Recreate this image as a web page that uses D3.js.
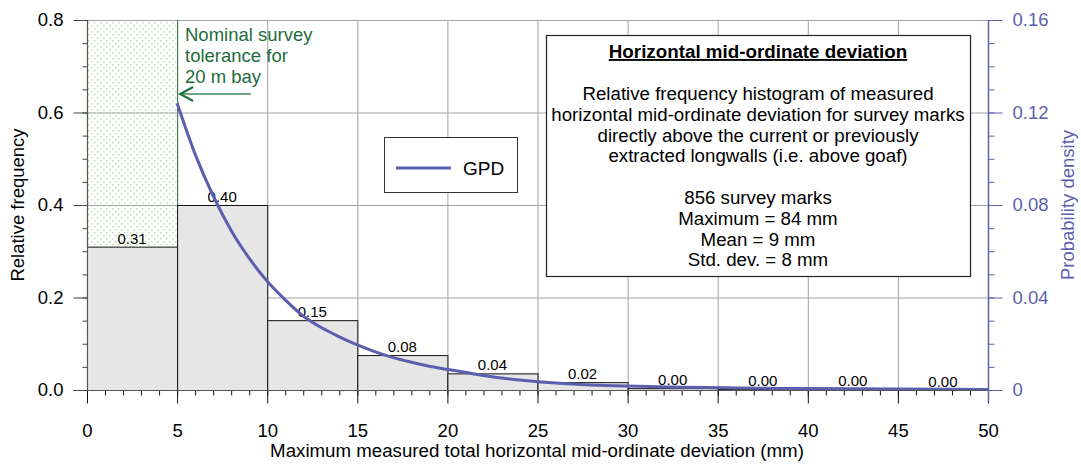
<!DOCTYPE html>
<html>
<head>
<meta charset="utf-8">
<script src="https://cdn.jsdelivr.net/npm/d3@7"></script>
<style>
  body { margin: 0; background: #fff; }
  svg { display: block; font-family: "Liberation Sans", Arial, sans-serif; }
</style>
</head>
<body>
<svg id="chart" width="1081" height="464"></svg>
<script>
// Histogram bins (mm) and relative frequencies
const binStarts = [0, 5, 10, 15, 20, 25, 30, 35, 40, 45];
const binWidth = 5;
const relFreq = [0.31, 0.40, 0.151, 0.0755, 0.036, 0.017, 0.004, 0.002, 0.0012, 0.0008];

// Fitted GPD probability density (starts at the 5 mm threshold)
const gpdX = [5, 6, 7, 8, 9, 10, 11, 12, 13, 14, 15, 16, 17, 18, 19, 20, 22, 24, 26, 28, 30, 33, 36, 40, 45, 50];
const gpdY = [0.124, 0.102, 0.084, 0.069, 0.057, 0.047, 0.039, 0.032, 0.027, 0.023, 0.0195, 0.0165,
              0.014, 0.012, 0.0103, 0.0089, 0.0063, 0.0043, 0.0030, 0.0022, 0.0017, 0.0012, 0.0009,
              0.0006, 0.0004, 0.0002];

const xTicks = [0, 5, 10, 15, 20, 25, 30, 35, 40, 45, 50];
const yTicks = [0.0, 0.2, 0.4, 0.6, 0.8];
const y2Ticks = [0, 0.04, 0.08, 0.12, 0.16];
const tolerance = 5;

const infoLines = [
  "Relative frequency histogram of measured",
  "horizontal mid-ordinate deviation for survey marks",
  "directly above the current or previously",
  "extracted longwalls (i.e. above goaf)",
  "",
  "856 survey marks",
  "Maximum = 84 mm",
  "Mean = 9 mm",
  "Std. dev. = 8 mm"
];
const noteLines = ["Nominal survey", "tolerance for", "20 m bay"];

const svg = d3.select("#chart");
const x = d3.scaleLinear().domain([0, 50]).range([87, 988]);
const y = d3.scaleLinear().domain([0, 0.8]).range([390, 20]);
const y2 = d3.scaleLinear().domain([0, 0.16]).range([390, 20]);

const green = "#1f6b3b";
const blue = "#5b5fad";

// dotted fill for the tolerance band
const defs = svg.append("defs");
const pat = defs.append("pattern").attr("id", "dots").attr("patternUnits", "userSpaceOnUse")
  .attr("width", 6).attr("height", 6);
pat.append("rect").attr("width", 6).attr("height", 6).attr("fill", "#ffffff");
pat.append("rect").attr("x", 1).attr("y", 1).attr("width", 1.6).attr("height", 1.6).attr("fill", "#c4e0bc");
pat.append("rect").attr("x", 4).attr("y", 4).attr("width", 1.6).attr("height", 1.6).attr("fill", "#c4e0bc");

svg.append("rect")
  .attr("x", x(0)).attr("y", y(0.8))
  .attr("width", x(tolerance) - x(0)).attr("height", y(0) - y(0.8))
  .attr("fill", "url(#dots)");

// grid
const grid = svg.append("g").attr("stroke", "#a3a3a3").attr("stroke-width", 1);
grid.selectAll("line.v").data(xTicks.filter(d => d > 0 && d < 50 && d !== tolerance)).join("line")
  .attr("x1", d => x(d) + 0.5).attr("x2", d => x(d) + 0.5)
  .attr("y1", y(0.8)).attr("y2", y(0));
grid.selectAll("line.h").data(yTicks.filter(d => d > 0)).join("line")
  .attr("x1", x(0)).attr("x2", x(50))
  .attr("y1", d => y(d) + 0.5).attr("y2", d => y(d) + 0.5);

// tolerance boundary
svg.append("line")
  .attr("x1", x(tolerance) + 0.5).attr("x2", x(tolerance) + 0.5)
  .attr("y1", y(0.8)).attr("y2", y(0))
  .attr("stroke", "#4d7d5c").attr("stroke-width", 1.2);

// bars
svg.append("g").selectAll("rect").data(binStarts).join("rect")
  .attr("x", d => x(d) + 0.5)
  .attr("width", x(binWidth) - x(0))
  .attr("y", (d, i) => y(relFreq[i]) + 0.5)
  .attr("height", (d, i) => y(0) - y(relFreq[i]))
  .attr("fill", "#e6e6e6").attr("stroke", "#111").attr("stroke-width", 1);

// bar value labels
const fmt = d3.format(".2f");
svg.append("g").selectAll("text").data(binStarts).join("text")
  .attr("x", d => x(d + binWidth / 2))
  .attr("y", (d, i) => y(relFreq[i]) - 3)
  .attr("text-anchor", "middle")
  .attr("font-size", 15).attr("fill", "#000")
  .text((d, i) => fmt(relFreq[i]));

// GPD curve
const line = d3.line().x(d => x(d[0])).y(d => y2(d[1])).curve(d3.curveMonotoneX);
svg.append("path")
  .datum(gpdX.map((v, i) => [v, gpdY[i]]))
  .attr("d", line)
  .attr("fill", "none").attr("stroke", blue).attr("stroke-width", 3);

// bottom axis
const xAxis = svg.append("g").attr("transform", `translate(0,${y(0) + 0.5})`);
xAxis.call(d3.axisBottom(x).tickValues(d3.range(0, 51, 1)).tickSize(5).tickFormat(""));
xAxis.append("g").call(d3.axisBottom(x).tickValues(xTicks).tickSize(13).tickPadding(20));
xAxis.selectAll("path.domain").remove();
xAxis.selectAll("line").attr("stroke", "#111");
xAxis.selectAll("text").attr("font-size", 18.5).attr("fill", "#000")
  .attr("font-family", "Liberation Sans, Arial, sans-serif");
svg.append("line").attr("x1", 73).attr("x2", x(50)).attr("y1", y(0) + 0.5).attr("y2", y(0) + 0.5)
  .attr("stroke", "#555").attr("stroke-width", 1.2);

// left axis
const yAxis = svg.append("g").attr("transform", `translate(${x(0) + 0.5},0)`);
yAxis.call(d3.axisLeft(y).tickValues(d3.range(0, 0.801, 0.05)).tickSize(5).tickFormat(""));
yAxis.append("g").call(d3.axisLeft(y).tickValues(yTicks).tickSize(14).tickPadding(10).tickFormat(d3.format(".1f")));
yAxis.selectAll("path.domain").remove();
yAxis.selectAll("line").attr("stroke", "#444");
yAxis.selectAll("text").attr("font-size", 18.5).attr("fill", "#000")
  .attr("font-family", "Liberation Sans, Arial, sans-serif");
svg.append("line").attr("x1", x(0) + 0.5).attr("x2", x(0) + 0.5).attr("y1", y(0.8)).attr("y2", y(0))
  .attr("stroke", "#555").attr("stroke-width", 1.2);

// right axis
const y2Axis = svg.append("g").attr("transform", `translate(${x(50) + 0.5},0)`);
y2Axis.call(d3.axisRight(y2).tickValues(d3.range(0, 0.1601, 0.01)).tickSize(6).tickFormat(""));
y2Axis.append("g").call(d3.axisRight(y2).tickValues(y2Ticks).tickSize(14).tickPadding(10)
  .tickFormat(d => d === 0 ? "0" : d3.format(".2f")(d)));
y2Axis.selectAll("path.domain").remove();
y2Axis.selectAll("line").attr("stroke", blue);
y2Axis.selectAll("text").attr("font-size", 18.5).attr("fill", blue)
  .attr("font-family", "Liberation Sans, Arial, sans-serif");
svg.append("line").attr("x1", x(50) + 0.5).attr("x2", x(50) + 0.5).attr("y1", y(0.8)).attr("y2", y(0) + 12)
  .attr("stroke", blue).attr("stroke-width", 1.5);

// axis titles
svg.append("text").attr("x", 537).attr("y", 457).attr("text-anchor", "middle")
  .attr("font-size", 18.7).text("Maximum measured total horizontal mid-ordinate deviation (mm)");
svg.append("text").attr("transform", "translate(24,205) rotate(-90)").attr("text-anchor", "middle")
  .attr("font-size", 18.5).text("Relative frequency");
svg.append("text").attr("transform", "translate(1074,205) rotate(-90)").attr("text-anchor", "middle")
  .attr("font-size", 18.5).attr("fill", blue).text("Probability density");

// tolerance note and arrow
svg.append("text").attr("x", 185).attr("font-size", 18.5).attr("fill", green)
  .selectAll("tspan").data(noteLines).join("tspan")
  .attr("x", 185).attr("y", (d, i) => 41 + i * 21).text(d => d);
svg.append("line").attr("x1", 251).attr("x2", x(tolerance) + 3).attr("y1", 94).attr("y2", 94)
  .attr("stroke", "#3f8a5a").attr("stroke-width", 1.5);
svg.append("path").attr("d", `M${x(tolerance) + 16},87 L${x(tolerance) + 3},94 L${x(tolerance) + 16},101`)
  .attr("fill", "none").attr("stroke", green).attr("stroke-width", 2);

// legend
const lg = svg.append("g");
lg.append("rect").attr("x", 384.5).attr("y", 137.5).attr("width", 133).attr("height", 55)
  .attr("fill", "#fff").attr("stroke", "#333").attr("stroke-width", 1);
lg.append("line").attr("x1", 396).attr("x2", 451).attr("y1", 168).attr("y2", 168)
  .attr("stroke", blue).attr("stroke-width", 3);
lg.append("text").attr("x", 463).attr("y", 175).attr("font-size", 19).text("GPD");

// info box
const ib = svg.append("g");
ib.append("rect").attr("x", 546.5).attr("y", 35.5).attr("width", 424).attr("height", 241)
  .attr("fill", "#fff").attr("stroke", "#222").attr("stroke-width", 1.2);
ib.append("text").attr("x", 758).attr("y", 58).attr("text-anchor", "middle")
  .attr("font-size", 18.8).attr("font-weight", "bold").attr("text-decoration", "underline")
  .text("Horizontal mid-ordinate deviation");
ib.append("text").attr("text-anchor", "middle").attr("font-size", 18.7)
  .selectAll("tspan").data(infoLines).join("tspan")
  .attr("x", 758).attr("y", (d, i) => 100 + i * 20.8).text(d => d);
</script>
</body>
</html>
